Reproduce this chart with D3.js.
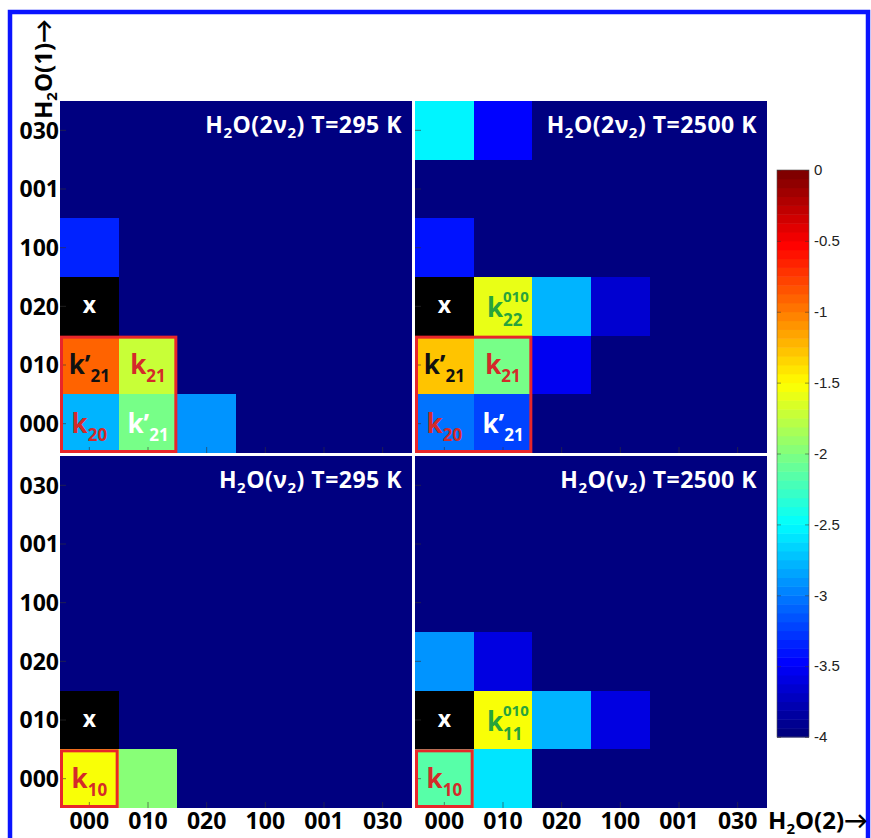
<!DOCTYPE html>
<html>
<head>
<meta charset="utf-8">
<script src="https://cdn.jsdelivr.net/npm/d3@7"></script>
<style>
  html, body { margin: 0; padding: 0; background: #fff; }
  svg { display: block; }
  .lbl { font-family: "Open Sans", Lato, sans-serif; font-weight: 700; }
  .cb text { font-family: "Liberation Sans", Arial, sans-serif; font-size: 14px; fill: #222; }
</style>
</head>
<body>
<script>
// Vibrational states, bottom-to-top on y and left-to-right on x.
const states = ['000', '010', '020', '100', '001', '030'];

// log10 rate matrices, rows listed top (030) to bottom (000); null = the black "x" cell.
const v2x2_295 = [
    [-4, -4, -4, -4, -4, -4],
    [-4, -4, -4, -4, -4, -4],
    [-3.35, -4, -4, -4, -4, -4],
    [null, -4, -4, -4, -4, -4],
    [-0.9, -1.7, -4, -4, -4, -4],
    [-2.8, -2.0, -2.9, -4, -4, -4]
];
const v2x2_2500 = [
    [-2.5, -3.45, -4, -4, -4, -4],
    [-4, -4, -4, -4, -4, -4],
    [-3.4, -4, -4, -4, -4, -4],
    [null, -1.6, -2.75, -3.65, -4, -4],
    [-1.25, -2.05, -3.5, -4, -4, -4],
    [-3.05, -3.2, -4, -4, -4, -4]
];
const v2_295 = [
    [-4, -4, -4, -4, -4, -4],
    [-4, -4, -4, -4, -4, -4],
    [-4, -4, -4, -4, -4, -4],
    [-4, -4, -4, -4, -4, -4],
    [null, -4, -4, -4, -4, -4],
    [-1.5, -1.95, -4, -4, -4, -4]
];
const v2_2500 = [
    [-4, -4, -4, -4, -4, -4],
    [-4, -4, -4, -4, -4, -4],
    [-4, -4, -4, -4, -4, -4],
    [-2.9, -3.6, -4, -4, -4, -4],
    [null, -1.5, -2.75, -3.6, -4, -4],
    [-2.15, -2.6, -4, -4, -4, -4]
];

const colorTicks = [0, -0.5, -1, -1.5, -2, -2.5, -3, -3.5, -4];

// Cell annotations: [row, col, base, prime, sub, sup, colour]
const RED = '#d42a2a', GREEN = '#28a33c';
const labels2v2_295 = [
    ['020', '000', 'x', false, '', '', '#fff'],
    ['010', '000', 'k', true, '21', '', '#111'],
    ['010', '010', 'k', false, '21', '', RED],
    ['000', '000', 'k', false, '20', '', RED],
    ['000', '010', 'k', true, '21', '', '#fff']
];
const labels2v2_2500 = [
    ['020', '000', 'x', false, '', '', '#fff'],
    ['020', '010', 'k', false, '22', '010', GREEN],
    ['010', '000', 'k', true, '21', '', '#111'],
    ['010', '010', 'k', false, '21', '', RED],
    ['000', '000', 'k', false, '20', '', RED],
    ['000', '010', 'k', true, '21', '', '#fff']
];
const labelsv2_295 = [
    ['010', '000', 'x', false, '', '', '#fff'],
    ['000', '000', 'k', false, '10', '', RED]
];
const labelsv2_2500 = [
    ['010', '000', 'x', false, '', '', '#fff'],
    ['010', '010', 'k', false, '11', '010', GREEN],
    ['000', '000', 'k', false, '10', '', RED]
];

// MATLAB jet
const jet = t => {
    const c = v => Math.round(255 * Math.max(0, Math.min(1, v)));
    return `rgb(${c(1.5 - Math.abs(4 * t - 3))},${c(1.5 - Math.abs(4 * t - 2))},${c(1.5 - Math.abs(4 * t - 1))})`;
};
const color = d3.scaleSequential(t => jet(Math.floor(t * 63.999) / 63)).domain([-4, 0]).clamp(true);

const svg = d3.select('body').append('svg').attr('width', 871).attr('height', 838);

// blue frame
svg.append('rect').attr('x', 10).attr('y', 12).attr('width', 858).attr('height', 840)
    .attr('fill', 'none').attr('stroke', '#0a14ff').attr('stroke-width', 4.5);

const size = 352;
const panels = [
    { x: 60, y: 101, data: v2x2_295, labels: labels2v2_295, title: ['2', '295'], box: 2, left: true, bottom: false },
    { x: 415, y: 101, data: v2x2_2500, labels: labels2v2_2500, title: ['2', '2500'], box: 2, left: false, bottom: false },
    { x: 60, y: 456, data: v2_295, labels: labelsv2_295, title: ['', '295'], box: 1, left: true, bottom: true },
    { x: 415, y: 456, data: v2_2500, labels: labelsv2_2500, title: ['', '2500'], box: 1, left: false, bottom: true }
];

const xScale = d3.scaleBand().domain(states).range([0, size]);
const yScale = d3.scaleBand().domain(states).range([size, 0]);
const rowsTopDown = states.slice().reverse();

panels.forEach(p => {

    const g = svg.append('g').attr('transform', `translate(${p.x},${p.y})`);

    const cells = p.data.flatMap((row, i) => row.map((v, j) => ({ r: rowsTopDown[i], c: states[j], v })));

    g.append('rect').attr('width', size).attr('height', size).attr('fill', color(-4));
    g.selectAll('rect.cell').data(cells.filter(d => d.v !== -4)).join('rect')
        .attr('class', 'cell')
        .attr('x', d => xScale(d.c)).attr('y', d => yScale(d.r))
        .attr('width', xScale.bandwidth()).attr('height', yScale.bandwidth())
        .attr('shape-rendering', 'crispEdges')
        .attr('fill', d => d.v === null ? '#000' : color(d.v));

    // inward ticks
    const xAxis = g.append('g').attr('transform', `translate(0,${size})`)
        .call(d3.axisBottom(xScale).tickSize(-6).tickSizeOuter(0).tickFormat(p.bottom ? null : ''));
    const yAxis = g.append('g')
        .call(d3.axisLeft(yScale).tickSize(-6).tickSizeOuter(0).tickFormat(p.left ? null : ''));
    [xAxis, yAxis].forEach(a => {
        a.select('.domain').remove();
        a.selectAll('line').attr('stroke', '#333').attr('stroke-opacity', 0.6);
        a.selectAll('text').attr('class', 'lbl').attr('font-size', 23).attr('fill', '#000');
    });
    xAxis.selectAll('text').attr('dy', null).attr('y', 21);
    yAxis.selectAll('text').attr('x', -1).attr('dy', '0.36em');

    // red box
    const boxStates = states.slice(0, p.box);
    g.append('rect')
        .attr('x', xScale(boxStates[0]) + 1.5)
        .attr('y', yScale(boxStates[boxStates.length - 1]) + 1.5)
        .attr('width', xScale.bandwidth() * p.box - 3)
        .attr('height', yScale.bandwidth() * p.box - 3)
        .attr('fill', 'none').attr('stroke', '#e8262a').attr('stroke-width', 3);

    // title
    const t = g.append('text').attr('class', 'lbl').attr('fill', '#fff').attr('font-size', 23)
        .attr('letter-spacing', 0.5)
        .attr('text-anchor', 'end').attr('x', size - 10).attr('y', 32);
    t.append('tspan').text('H');
    t.append('tspan').attr('font-size', 15).attr('dy', 5).text('2');
    t.append('tspan').attr('dy', -5).text('O(' + p.title[0] + 'ν');
    t.append('tspan').attr('font-size', 15).attr('dy', 5).text('2');
    t.append('tspan').attr('dy', -5).text(`) T=${p.title[1]} K`);

    // cell annotations
    p.labels.forEach(([r, c, base, prime, sub, sup, fill]) => {
        const cx = xScale(c) + xScale.bandwidth() / 2;
        const cy = yScale(r) + yScale.bandwidth() / 2;
        if (base === 'x') {
            g.append('text').attr('class', 'lbl').attr('fill', fill).attr('font-size', 23)
                .attr('text-anchor', 'middle').attr('x', cx).attr('y', cy + 7).text('x');
        } else if (sup) {
            g.append('text').attr('class', 'lbl').attr('fill', fill).attr('font-size', 26)
                .attr('text-anchor', 'end').attr('x', cx).attr('y', cy + 11).text(base);
            g.append('text').attr('class', 'lbl').attr('fill', fill).attr('font-size', 15)
                .attr('x', cx).attr('y', cy - 4).text(sup);
            g.append('text').attr('class', 'lbl').attr('fill', fill).attr('font-size', 17)
                .attr('x', cx).attr('y', cy + 20).text(sub);
        } else {
            const txt = g.append('text').attr('class', 'lbl').attr('fill', fill).attr('font-size', 26)
                .attr('text-anchor', 'middle').attr('x', cx).attr('y', cy + 9);
            txt.append('tspan').text(base + (prime ? '’' : ''));
            txt.append('tspan').attr('font-size', 17).attr('dy', 8).text(sub);
        }
    });

});

// axis titles
const yTitle = svg.append('text').attr('class', 'lbl').attr('font-size', 24)
    .attr('transform', 'translate(52,119) rotate(-90)');
yTitle.append('tspan').text('H');
yTitle.append('tspan').attr('font-size', 15).attr('dy', 5).text('2');
yTitle.append('tspan').attr('dy', -5).text('O(1)→');

const xTitle = svg.append('text').attr('class', 'lbl').attr('font-size', 24)
    .attr('x', 768).attr('y', 829);
xTitle.append('tspan').text('H');
xTitle.append('tspan').attr('font-size', 15).attr('dy', 5).text('2');
xTitle.append('tspan').attr('dy', -5).text('O(2)→');

// colour bar
const cbX = 777, cbW = 32, cbTop = 170, cbBottom = 737;
const cbScale = d3.scaleLinear().domain([-4, 0]).range([cbBottom, cbTop]);
const steps = d3.range(64).map(i => -4 + (i + 0.5) * 4 / 64);
const cb = svg.append('g').attr('class', 'cb');
cb.selectAll('rect').data(steps).join('rect')
    .attr('x', cbX).attr('width', cbW)
    .attr('y', d => cbScale(d + 2 / 64)).attr('height', (cbBottom - cbTop) / 64 + 0.5)
    .attr('fill', d => color(d));
cb.append('rect').attr('x', cbX).attr('y', cbTop).attr('width', cbW).attr('height', cbBottom - cbTop)
    .attr('fill', 'none').attr('stroke', '#555').attr('stroke-width', 0.6);
const cbAxis = cb.append('g').attr('transform', `translate(${cbX + cbW},0)`)
    .call(d3.axisRight(cbScale).tickValues(colorTicks).tickSize(-4).tickPadding(5).tickFormat(d3.format('')));
cbAxis.select('.domain').remove();
cbAxis.selectAll('line').attr('stroke', '#333').attr('stroke-opacity', 0.5);
cb.append('g').attr('transform', `translate(${cbX},0)`)
    .call(d3.axisRight(cbScale).tickValues(colorTicks).tickSize(4).tickFormat(''))
    .call(a => a.select('.domain').remove())
    .selectAll('line').attr('stroke', '#333').attr('stroke-opacity', 0.5);
cbAxis.selectAll('text').attr('dy', '0.32em').style('font-size', '15px')
    .text(d => d === 0 ? '0' : String(d));
</script>
</body>
</html>
